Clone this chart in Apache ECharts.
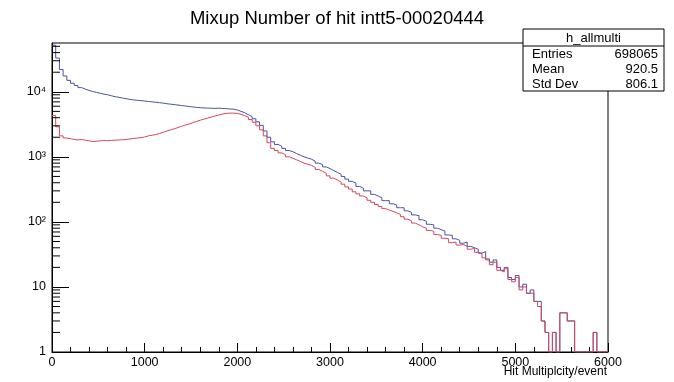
<!DOCTYPE html>
<html>
<head>
<meta charset="utf-8">
<script src="https://cdn.jsdelivr.net/npm/echarts@6/dist/echarts.min.js"></script>
<style>
html,body{margin:0;padding:0;background:#fff;}
#main{width:674px;height:382px;}
</style>
</head>
<body>
<div id="main"></div>
<script>
// histogram bins: 0..6000, width 40
var binWidth = 40;
var xMin = 0, xMax = 6000;

// h_allmulti (blue)
var blueCounts = [
 52000,33000,22000,17500,15000,13500,12500,11600,11000,10500,
 10100,9800,9500,9200,9000,8700,8400,8250,8000,7850,
 7650,7500,7400,7300,7200,7100,7000,6900,6800,6700,
 6550,6450,6350,6250,6150,6050,5950,5850,5750,5700,
 5650,5600,5600,5550,5600,5550,5500,5450,5400,5250,
 5000,4750,4450,4150,3850,3450,3050,2500,2000,1700,
 1550,1450,1350,1250,1200,1120,1060,1000,960,920,
 860,800,760,700,660,615,575,540,500,455,
 420,395,350,330,300,300,265,250,235,212,
 212,190,182,165,165,148,140,128,125,108,
 102,92,90,80,76,72,63,62,55,52,
 47,49,42,40,38,33,35,27,24,26,
 20,18,20,14,13,15,10,11,8,9,
 6,6,3,2,0,2,0,4,4,3,
 3,0,0,0,0,0,2,0,0,0
];

// mixup (red)
var redCounts = [
 4300,2900,2100,1950,1900,1850,1820,1850,1800,1760,
 1720,1740,1760,1780,1770,1790,1800,1820,1830,1850,
 1880,1920,1940,1970,2020,2100,2150,2200,2280,2380,
 2500,2600,2700,2820,2950,3080,3200,3350,3500,3650,
 3800,3950,4100,4250,4400,4550,4650,4700,4700,4650,
 4500,4300,4050,3750,3400,3000,2600,2100,1650,1350,
 1250,1150,1080,1000,950,900,850,800,770,740,
 690,640,600,560,510,470,440,410,380,345,
 320,290,270,250,235,215,200,185,172,160,
 152,145,138,130,120,110,104,96,90,84,
 80,74,72,64,62,56,55,48,49,44,
 45,42,38,39,34,33,28,26,22,24,
 18,17,19,13,12,14,9,10,8,8,
 6,5,3,2,0,2,0,4,4,3,
 3,0,0,0,0,0,2,0,0,0
];

var yMin = 1, yMax = 56234;
var yMinorTicks = [2,3,4,5,6,7,8,9,20,30,40,50,60,70,80,90,200,300,400,500,600,700,800,900,
 2000,3000,4000,5000,6000,7000,8000,9000,20000,30000,40000,50000];

var statsTitle = 'h_allmulti';
var statsRows = [['Entries','698065'],['Mean','920.5'],['Std Dev','806.1']];

// bins -> step points (empty bins drop to axis floor like ROOT)
function histPoints(counts) {
	var pts = [];
	for (var i = 0; i < counts.length; i++) {
		var v = counts[i] > 0 ? counts[i] : yMin;
		pts.push([xMin + i * binWidth, v]);
	}
	var last = counts[counts.length - 1] > 0 ? counts[counts.length - 1] : yMin;
	pts.push([xMax, last]);
	return pts;
}

var supers = {'2':'²','3':'³','4':'⁴'};
function yLabel(v) {
	var e = Math.round(Math.log(v) / Math.LN10);
	if (Math.abs(Math.pow(10, e) - v) > 1e-6 * v) return '';
	if (e == 0) return '1';
	if (e == 1) return '10';
	return '10' + supers[e];
}

var font = 'Liberation Sans, Arial, Helvetica, sans-serif';
var myChart = echarts.init(document.getElementById('main'));

// stats box
var boxL = 523, boxT = 29, boxW = 141, headH = 17, rowH = 15;
var statsGraphic = [
	{type:'rect', shape:{x:boxL, y:boxT, width:boxW, height:headH + rowH * statsRows.length},
	 style:{fill:'#fff', stroke:'#000', lineWidth:1}, z:100},
	{type:'line', shape:{x1:boxL, y1:boxT + headH, x2:boxL + boxW, y2:boxT + headH},
	 style:{stroke:'#000', lineWidth:1}, z:101},
	{type:'text', x:boxL + boxW / 2, y:boxT + headH / 2 + 1, z:101,
	 style:{text:statsTitle, font:'13px ' + font, fill:'#000', align:'center', verticalAlign:'middle'}}
];
for (var r = 0; r < statsRows.length; r++) {
	var ty = boxT + headH + rowH * r + rowH / 2 + 1;
	statsGraphic.push({type:'text', x:boxL + 9, y:ty, z:101,
		style:{text:statsRows[r][0], font:'13px ' + font, fill:'#000', align:'left', verticalAlign:'middle'}});
	statsGraphic.push({type:'text', x:boxL + boxW - 6, y:ty, z:101,
		style:{text:statsRows[r][1], font:'13px ' + font, fill:'#000', align:'right', verticalAlign:'middle'}});
}
// x axis title, right aligned under the axis end
statsGraphic.push({type:'text', right: 67, top: 366, z: 101,
	style:{text:'Hit Multiplcity/event', font:'12px ' + font, fill:'#000'}});

var option = {
	animation: false,
	backgroundColor: '#fff',
	title: {
		text: 'Mixup Number of hit intt5-00020444',
		left: 'center',
		top: 4,
		textStyle: {fontFamily: font, fontSize: 18.5, fontWeight: 'normal', color: '#000'}
	},
	grid: {left: 52, right: 66, top: 43, bottom: 30, containLabel: false, outerBoundsMode: 'none',
		show: true, borderColor: '#000', borderWidth: 1, backgroundColor: 'transparent'},
	xAxis: {
		type: 'value', min: xMin, max: xMax, interval: 1000,
		axisLine: {lineStyle: {color: '#000', width: 1}},
		axisTick: {inside: true, length: 9, lineStyle: {color: '#000'}},
		minorTick: {show: true, splitNumber: 5, length: 5, lineStyle: {color: '#000'}},
		splitLine: {show: false},
		axisLabel: {fontFamily: font, fontSize: 12.5, color: '#000', margin: 4,
			formatter: function(v){ return String(v); }}
	},
	yAxis: {
		type: 'log', logBase: 10, min: yMin, max: yMax,
		axisLine: {show: true, lineStyle: {color: '#000', width: 1}},
		axisTick: {inside: true, length: 17, lineStyle: {color: '#000'}},
		splitLine: {show: false},
		axisLabel: {fontFamily: font, fontSize: 12.5, color: '#000', margin: 6, formatter: yLabel, showMaxLabel: false}
	},
	graphic: statsGraphic,
	series: [
		{
			name: 'h_allmulti', type: 'line', step: 'end', showSymbol: false,
			data: histPoints(blueCounts),
			lineStyle: {color: '#4b50a8', width: 1}, z: 3
		},
		{
			name: 'mixup', type: 'line', step: 'end', showSymbol: false,
			data: histPoints(redCounts),
			lineStyle: {color: '#d3485c', width: 1}, z: 4
		},
		{
			// minor ticks of log y axis
			name: 'yminor', type: 'custom', silent: true, clip: false, z: 5,
			data: yMinorTicks.map(function(v){ return [xMin, v]; }),
			renderItem: function(params, api) {
				var p = api.coord([api.value(0), api.value(1)]);
				return {type: 'line', shape: {x1: p[0], y1: p[1], x2: p[0] + 8, y2: p[1]},
					style: {stroke: '#000', lineWidth: 1}};
			}
		}
	]
};

myChart.setOption(option);
</script>
</body>
</html>
